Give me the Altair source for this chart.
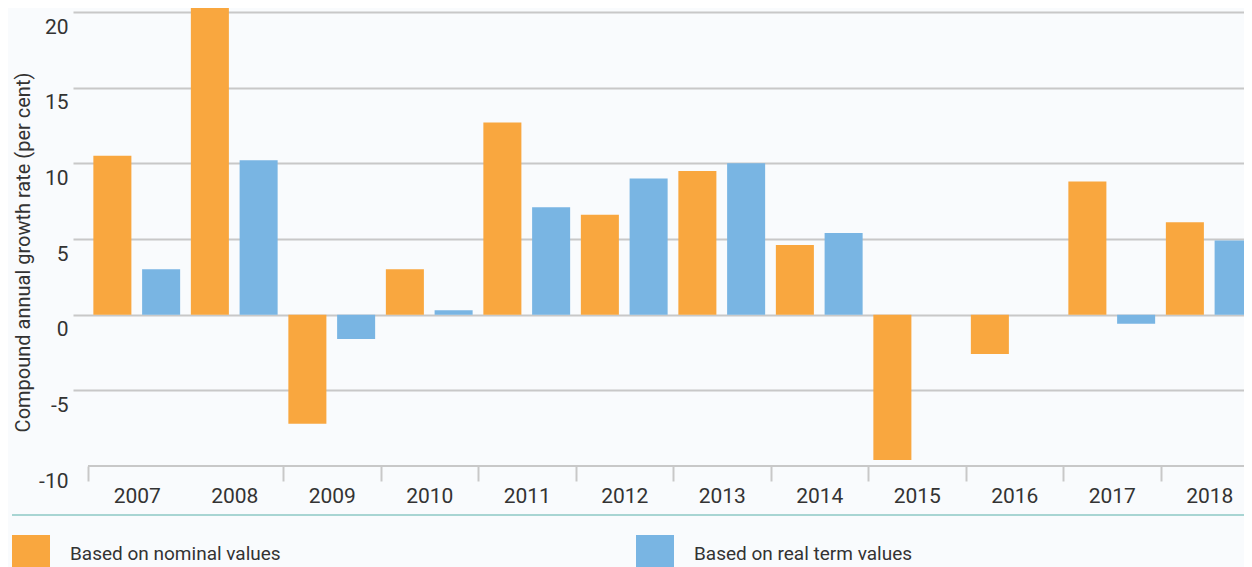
import altair as alt
import pandas as pd

years = ["2007", "2008", "2009", "2010", "2011", "2012", "2013", "2014", "2015", "2016", "2017", "2018"]
nominal = [10.5, 20.4, -7.2, 3.0, 12.7, 6.6, 9.5, 4.6, -9.6, -2.6, 8.8, 6.1]
real = [3.0, 10.2, -1.6, 0.3, 7.1, 9.0, 10.0, 5.4, None, None, -0.6, 4.9]
series = ["Based on nominal values", "Based on real term values"]
colors = ["#F9A73F", "#79B5E3"]
y_ticks = [-10, -5, 0, 5, 10, 15, 20]
y_floor = [-10]

rows = []
for i, yr in enumerate(years):
    rows.append({"year": yr, "series": series[0], "value": nominal[i]})
    rows.append({"year": yr, "series": series[1], "value": real[i]})
df = pd.DataFrame(rows)

FONT = "Roboto"
TEXT = "#333333"
GRID = "#C8C8C8"
BG = "#F9FBFD"

W = 1171
H = 454
RANGE_W = 1200

bars = alt.Chart(df).mark_bar().encode(
    x=alt.X(
        "year:N",
        sort=years,
        scale=alt.Scale(range=[0, RANGE_W], paddingInner=0, paddingOuter=15 / 97.5, round=False),
        axis=alt.Axis(
            title=None,
            tickBand="extent",
            tickSize=15,
            tickColor={"condition": {"test": "datum.label === '2007' && !datum.extra", "value": BG}, "value": GRID},
            tickWidth=2,
            domain=False,
            labelFont=FONT,
            labelFontSize=21,
            labelColor=TEXT,
            labelPadding=4,
            labelAngle=0,
            grid=False,
        ),
    ),
    xOffset=alt.XOffset(
        "series:N",
        sort=series,
        scale=alt.Scale(paddingInner=0.22, paddingOuter=0.11, round=False),
    ),
    y=alt.Y(
        "value:Q",
        scale=alt.Scale(domain=[-10, 20], nice=False, zero=True),
        axis=alt.Axis(
            title="Compound annual growth rate (per cent)",
            titleFont=FONT,
            titleFontSize=20,
            titleFontWeight="normal",
            titleColor=TEXT,
            titlePadding=5,
            titleY=240,
            values=y_ticks,
            labelExpr="'' + datum.value",
            labelFont=FONT,
            labelFontSize=21,
            labelColor=TEXT,
            labelPadding=5,
            labelBaseline="top",
            labelOffset=4,
            ticks=False,
            domain=False,
            grid=True,
            gridColor=GRID,
            gridWidth=2,
            gridOpacity={"condition": {"test": "datum.value === -10", "value": 0}, "value": 1},
        ),
    ),
    color=alt.Color(
        "series:N",
        sort=series,
        scale=alt.Scale(domain=series, range=colors),
        legend=alt.Legend(
            title=None,
            orient="none",
            legendX=-61,
            legendY=523,
            direction="horizontal",
            symbolType="square",
            symbolSize=1444,
            symbolStrokeWidth=0,
            symbolOpacity=1,
            labelFont=FONT,
            labelFontSize=19,
            labelColor=TEXT,
            labelOffset=20,
            labelLimit=600,
            columnPadding=355,
            padding=0,
        ),
    ),
)

floor_line = alt.Chart(pd.DataFrame({"v": y_floor})).mark_rule(color=GRID, strokeWidth=2).encode(
    y="v:Q", x=alt.value(15), x2=alt.value(W)
)

divider = alt.Chart(pd.DataFrame({"d": [0]})).mark_rule(color="#8CC8C4", strokeWidth=1.5).encode(
    x=alt.value(-61), x2=alt.value(W), y=alt.value(503)
)

chart = (
    alt.layer(divider, floor_line, bars)
    .properties(
        width=W,
        height=H,
        background=BG,
        padding={"left": 65, "top": 4, "right": 0, "bottom": 101},
        autosize=alt.AutoSizeParams(type="none"),
    )
    .configure_view(stroke=None)
)

chart.save("out.html", embed_options={"renderer": "svg", "actions": False})
